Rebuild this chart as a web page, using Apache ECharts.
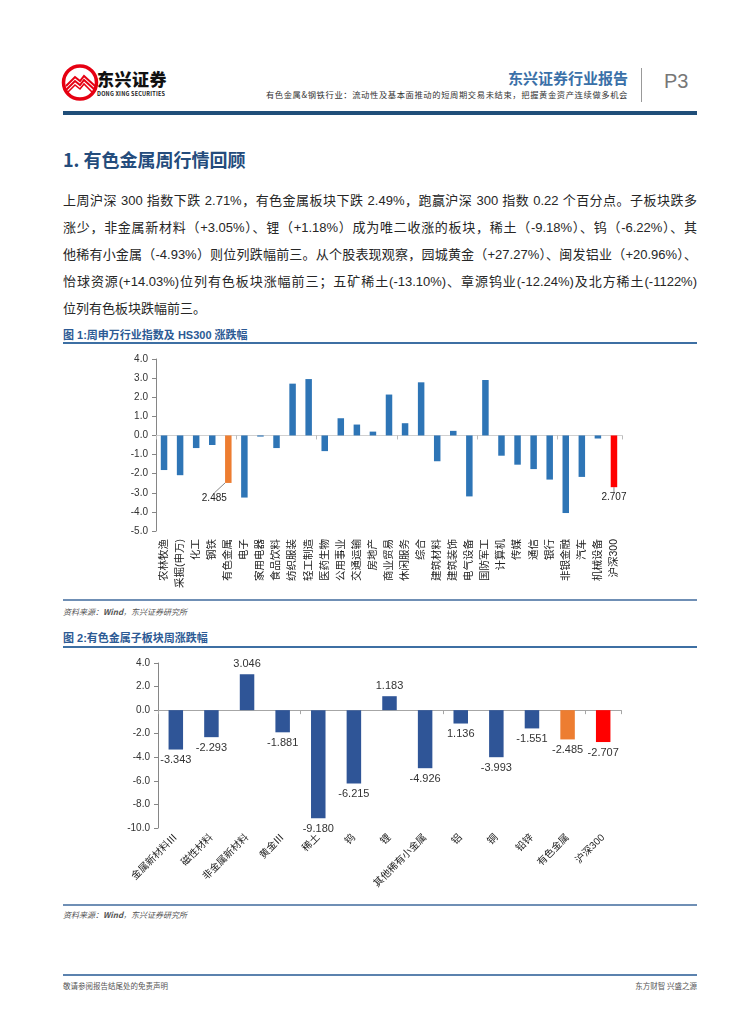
<!DOCTYPE html>
<html><head><meta charset="utf-8">
<script src="https://cdn.jsdelivr.net/npm/echarts@6/dist/echarts.min.js"></script>
<style>
html,body{margin:0;padding:0;background:#fff;}
body{width:755px;height:1024px;position:relative;overflow:hidden;font-family:"Noto Sans CJK SC","Liberation Sans",sans-serif;color:#222;}
.abs{position:absolute;}
.para div{position:absolute;left:63px;width:634px;font-size:13px;line-height:18px;text-align:justify;text-align-last:justify;white-space:nowrap;font-family:"Liberation Sans","Noto Sans CJK SC",sans-serif;color:#262626;}
.para div.last{text-align-last:left;}
.cap{position:absolute;left:63px;font-size:11px;font-weight:bold;color:#2C5A94;font-family:"Liberation Sans","Noto Sans CJK SC",sans-serif;}
.rule{position:absolute;left:63px;width:634px;}
.src{position:absolute;left:63px;font-size:8px;font-style:italic;color:#555;}
</style></head>
<body>
<!-- header -->
<svg class="abs" style="left:60px;top:62px" width="42" height="42" viewBox="0 0 42 42">
  <circle cx="20" cy="20.5" r="16.5" fill="none" stroke="#E60012" stroke-width="3.5"/>
  <path d="M6 24 L15 15 L20 19 L24 14 L35 24" fill="none" stroke="#E60012" stroke-width="2"/>
  <path d="M6 28 L15 19 L20 23 L24 18 L35 28" fill="none" stroke="#E60012" stroke-width="2"/>
  <path d="M7 31 L15 23 L20 27 L24 22 L33 31" fill="none" stroke="#E60012" stroke-width="1.6"/>
</svg>
<div class="abs" style="left:97px;top:66px;font-size:17px;font-weight:900;letter-spacing:0.5px;color:#111;">东兴证券</div>
<div class="abs" style="left:97px;top:90px;font-size:5.5px;font-weight:bold;color:#222;letter-spacing:0.2px;">DONG XING SECURITIES</div>
<div class="abs" style="right:127px;top:67px;font-size:15px;font-weight:bold;color:#3A70A8;">东兴证券行业报告</div>
<div class="abs" style="right:127px;top:88px;font-size:8.3px;letter-spacing:0.6px;color:#333;white-space:nowrap;">有色金属&amp;钢铁行业：流动性及基本面推动的短周期交易未结束，把握黄金资产连续做多机会</div>
<div class="abs" style="left:641px;top:68px;width:1px;height:34px;background:#999;"></div>
<div class="abs" style="left:664px;top:70px;font-size:20px;color:#777;font-family:'Liberation Sans',sans-serif;">P3</div>
<div class="rule" style="top:111px;height:4px;background:#1F4E79;"></div>

<div class="abs" style="left:63px;top:146px;font-size:18px;font-weight:bold;color:#244C7C;">1. 有色金属周行情回顾</div>

<div class="para">
<div style="top:192px;">上周沪深 300 指数下跌 2.71%，有色金属板块下跌 2.49%，跑赢沪深 300 指数 0.22 个百分点。子板块跌多</div>
<div style="top:219px;">涨少，非金属新材料（+3.05%）、锂（+1.18%）成为唯二收涨的板块，稀土（-9.18%）、钨（-6.22%）、其</div>
<div style="top:246px;">他稀有小金属（-4.93%）则位列跌幅前三。从个股表现观察，园城黄金（+27.27%）、闽发铝业（+20.96%）、</div>
<div style="top:273px;">怡球资源(+14.03%)位列有色板块涨幅前三；五矿稀土(-13.10%)、章源钨业(-12.24%)及北方稀土(-1122%)</div>
<div class="last" style="top:300px;">位列有色板块跌幅前三。</div>
</div>

<div class="cap" style="top:326px;">图 1:周申万行业指数及 HS300 涨跌幅</div>
<div class="rule" style="top:342px;height:2px;background:#3D6FA3;"></div>
<div id="c1" class="abs" style="left:0;top:345px;width:755px;height:254px;"></div>
<div class="rule" style="top:599px;height:2px;background:#6F8FB5;"></div>
<div class="src" style="top:606px;">资料来源：<b>Wind</b>，东兴证券研究所</div>

<div class="cap" style="top:629px;">图 2:有色金属子板块周涨跌幅</div>
<div class="rule" style="top:646px;height:2px;background:#3D6FA3;"></div>
<div id="c2" class="abs" style="left:0;top:650px;width:755px;height:253px;"></div>
<div class="rule" style="top:904px;height:2px;background:#6F8FB5;"></div>
<div class="src" style="top:909px;">资料来源：<b>Wind</b>，东兴证券研究所</div>

<div class="rule" style="top:974px;height:2px;background:#5B82AE;"></div>
<div class="abs" style="left:63px;top:980px;font-size:7.5px;color:#555;">敬请参阅报告结尾处的免责声明</div>
<div class="abs" style="right:58px;top:980px;font-size:7.5px;color:#555;">东方财智 兴盛之源</div>

<script>
const cat1 = ['农林牧渔','采掘(申万)','化工','钢铁','有色金属','电子','家用电器','食品饮料','纺织服装','轻工制造','医药生物','公用事业','交通运输','房地产','商业贸易','休闲服务','综合','建筑材料','建筑装饰','电气设备','国防军工','计算机','传媒','通信','银行','非银金融','汽车','机械设备','沪深300'];
const val1 = [-1.81,-2.08,-0.66,-0.50,-2.485,-3.25,-0.06,-0.66,2.71,2.95,-0.82,0.90,0.57,0.20,2.14,0.64,2.78,-1.35,0.24,-3.19,2.90,-1.06,-1.53,-1.76,-2.31,-4.06,-2.17,-0.16,-2.707];
const yTicks1 = {min:-5, max:4, interval:1};

const cat2 = ['金属新材料Ⅲ','磁性材料','非金属新材料','黄金Ⅲ','稀土','钨','锂','其他稀有小金属','铝','铜','铅锌','有色金属','沪深300'];
const val2 = [-3.343,-2.293,3.046,-1.881,-9.180,-6.215,1.183,-4.926,-1.136,-3.993,-1.551,-2.485,-2.707];
const yTicks2 = {min:-10, max:4, interval:2};

const BLUE1='#2E75B6', BLUE2='#2F5597', ORANGE='#ED7D31', RED='#FF0000';
const FONT='"Liberation Sans","Noto Sans CJK SC",sans-serif';

function colorFor(name, base){ return name==='有色金属'?ORANGE:(name==='沪深300'?RED:base); }

const c1 = echarts.init(document.getElementById('c1'), null, {renderer:'canvas'});
c1.setOption({
  animation:false,
  grid:{left:156, top:14, width:466, height:172},
  xAxis:[
    {type:'category', data:cat1, position:'bottom', axisLine:{show:false, onZero:false}, axisTick:{show:false},
     axisLabel:{rotate:90, interval:0, margin:8, fontSize:10.5, color:'#222', fontFamily:FONT}},
    {type:'category', data:cat1, position:'bottom', axisLine:{show:true, onZero:true, lineStyle:{color:'#D0D0D0', width:1}},
     axisTick:{show:true, length:4, lineStyle:{color:'#BBBBBB'}}, axisLabel:{show:false}}
  ],
  yAxis:{type:'value', min:yTicks1.min, max:yTicks1.max, interval:yTicks1.interval,
    axisLine:{show:true, lineStyle:{color:'#868686'}}, axisTick:{show:true, length:4, lineStyle:{color:'#868686'}},
    splitLine:{show:false}, axisLabel:{formatter:v=>v.toFixed(1), fontSize:10, color:'#333', margin:8, fontFamily:FONT}},
  series:[{
    type:'bar', xAxisIndex:0, barWidth:6.5,
    data: val1.map((v,i)=>{
      const d={value:v, itemStyle:{color:colorFor(cat1[i],BLUE1)}};
      if(cat1[i]==='有色金属') d.label={show:true, position:'bottom', distance:2, formatter:'2.485', fontSize:10, color:'#222', fontFamily:FONT};
      if(cat1[i]==='沪深300') d.label={show:true, position:'bottom', distance:5, formatter:'2.707', fontSize:10, color:'#222', fontFamily:FONT};
      return d;
    }),
    labelLayout: p => (p.dataIndex===cat1.indexOf('有色金属') ? {dx:-14, dy:8} : {}),
    labelLine:{show:true, lineStyle:{color:'#666', width:0.8}}
  }]
});

const c2 = echarts.init(document.getElementById('c2'), null, {renderer:'canvas'});
c2.setOption({
  animation:false,
  grid:{left:158, top:13, width:463, height:165},
  xAxis:[
    {type:'category', data:cat2, position:'bottom', axisLine:{show:false, onZero:false}, axisTick:{show:false},
     axisLabel:{rotate:45, interval:0, margin:8, fontSize:10, color:'#222', fontFamily:FONT}},
    {type:'category', data:cat2, position:'bottom', axisLine:{show:true, onZero:true, lineStyle:{color:'#A6A6A6', width:1}},
     axisTick:{show:true, length:4, lineStyle:{color:'#A6A6A6'}}, axisLabel:{show:false}}
  ],
  yAxis:{type:'value', min:yTicks2.min, max:yTicks2.max, interval:yTicks2.interval,
    axisLine:{show:true, lineStyle:{color:'#868686'}}, axisTick:{show:true, length:4, lineStyle:{color:'#868686'}},
    splitLine:{show:false}, axisLabel:{formatter:v=>v.toFixed(1), fontSize:10, color:'#333', margin:8, fontFamily:FONT}},
  series:[{
    type:'bar', xAxisIndex:0, barWidth:14.5,
    data: val2.map((v,i)=>({value:v, itemStyle:{color:colorFor(cat2[i],BLUE2)},
      label:{show:true, position:v>=0?'top':'bottom', distance:5,
             formatter: cat2[i]==='铝' ? '1.136' : v.toFixed(3), fontSize:11, color:'#333', fontFamily:FONT}}))
  }]
});
</script>
</body></html>
